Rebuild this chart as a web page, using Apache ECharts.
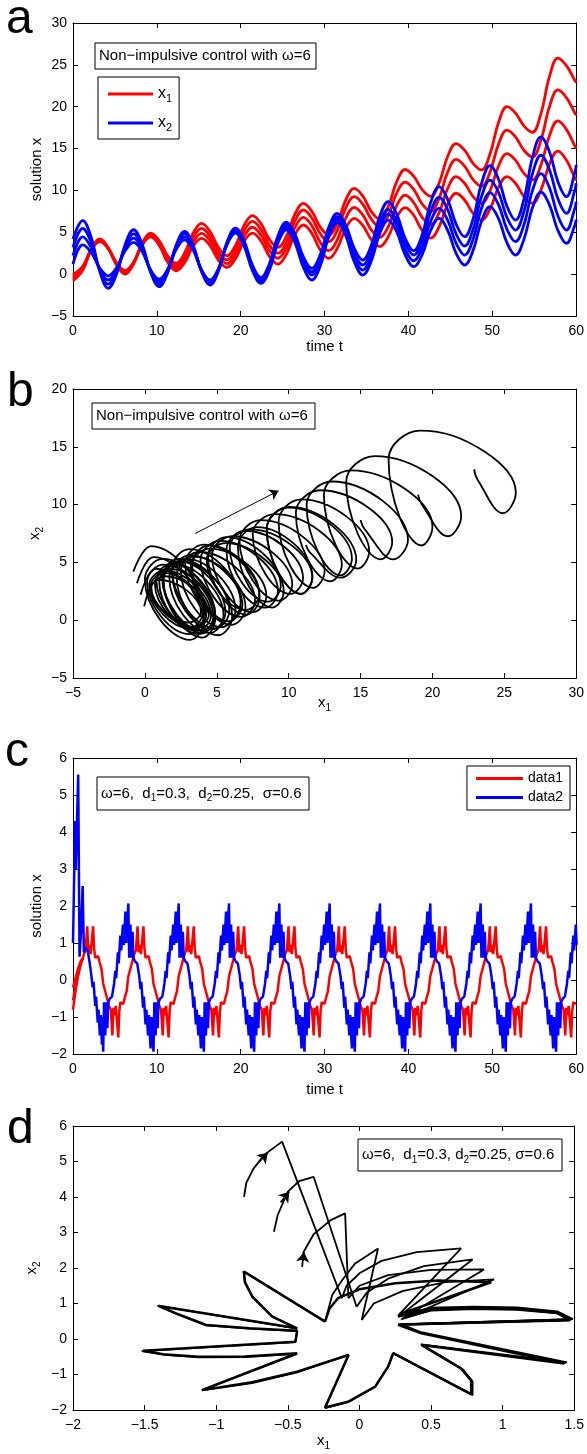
<!DOCTYPE html>
<html><head><meta charset="utf-8">
<script src="https://cdn.jsdelivr.net/npm/echarts@6/dist/echarts.min.js"></script>
<style>html,body{margin:0;padding:0;background:#fff}#c{width:587px;height:1454px}</style>
</head><body><div id="c"></div>
<script>
const FONT = "'Liberation Sans', Arial, Helvetica, sans-serif";
// ---------- panels a / b : four trajectories sampled at common times ----------
const tA = [0,1.16,2.17,3.19,4.20,5.21,6.22,7.23,8.24,9.26,10.27,11.28,12.29,13.30,14.31,15.33,16.34,17.35,18.36,19.37,20.38,21.40,22.41,23.42,24.43,25.44,26.45,27.47,28.48,29.49,30.50,31.51,32.52,33.54,34.55,35.56,36.57,37.58,38.59,39.61,40.62,41.63,42.64,43.65,44.66,45.68,46.69,47.70,48.71,49.72,50.74,51.75,52.76,53.77,54.78,55.79,56.81,57.82,58.83,59.84,60];
const x1Traj1 = [-0.05,0.94,2.91,3.9,3.04,1.31,0.45,1.45,3.45,4.45,3.44,1.41,0.4,1.37,3.3,4.27,3.4,1.67,0.8,1.83,3.88,4.9,3.98,2.13,1.2,2.37,4.7,5.87,4.87,2.88,1.88,3.08,5.47,6.66,5.82,4.13,3.28,4.45,6.78,7.95,7.04,5.21,4.3,5.64,8.32,9.66,8.86,7.27,6.47,7.77,10.36,11.65,10.86,9.27,8.47,10.03,13.14,14.7,13.63,11.49,11.2];
const x1Traj2 = [-0.3,0.78,2.93,4.0,3.08,1.23,0.3,1.38,3.53,4.6,3.63,1.68,0.7,1.74,3.83,4.87,3.97,2.16,1.25,2.34,4.51,5.6,4.68,2.83,1.9,3.12,5.56,6.78,5.79,3.8,2.8,4.1,6.69,7.98,7.08,5.29,4.39,5.66,8.19,9.45,8.56,6.79,5.9,7.34,10.21,11.65,10.86,9.27,8.47,9.95,12.92,14.4,13.61,12.04,11.25,13.01,16.54,18.3,17.29,15.28,15.0];
const x1Traj3 = [-0.55,0.61,2.94,4.1,3.11,1.14,0.15,1.3,3.6,4.75,3.81,1.94,1.0,2.12,4.35,5.47,4.53,2.64,1.7,2.85,5.15,6.3,5.35,3.45,2.5,3.79,6.37,7.66,6.71,4.82,3.87,5.22,7.91,9.25,8.36,6.57,5.67,7.0,9.67,11.0,10.13,8.38,7.5,9.05,12.15,13.7,12.9,11.3,10.5,12.18,15.53,17.2,16.4,14.8,14.0,16.0,20.0,22.0,21.08,19.25,19.0];
const x1Traj4 = [-0.8,0.45,2.95,4.2,3.15,1.05,0,1.23,3.68,4.9,4.0,2.2,1.3,2.49,4.88,6.07,5.1,3.17,2.2,3.4,5.8,7.0,6.05,4.15,3.2,4.51,7.14,8.45,7.5,5.62,4.67,6.07,8.86,10.25,9.33,7.5,6.58,8.06,11.02,12.5,11.7,10.1,9.3,10.88,14.03,15.6,14.81,13.24,12.45,14.34,18.11,20.0,19.24,17.71,16.95,19.16,23.59,25.8,24.91,23.14,22.9];
const x2Traj1 = [1.2,3.5,2.58,0.73,-0.2,0.8,2.8,3.8,2.7,0.5,-0.6,0.58,2.93,4.1,2.9,0.5,-0.7,0.7,3.5,4.9,3.4,0.4,-1.1,0.5,3.7,5.3,3.8,0.8,-0.7,1.01,4.44,6.15,4.59,1.46,-0.1,1.54,4.82,6.46,5.07,2.28,0.89,2.33,5.22,6.66,5.27,2.48,1.09,2.83,6.32,8.06,6.62,3.73,2.28,4.16,7.92,9.8,8.27,5.21,3.68,5.85,6.5];
const x2Traj2 = [2.2,4.45,3.16,0.59,-0.7,0.55,3.05,4.3,3.0,0.4,-0.9,0.44,3.11,4.45,3.11,0.44,-0.9,0.6,3.6,5.1,3.63,0.68,-0.8,0.8,4.0,5.6,4.18,1.33,-0.1,1.56,4.88,6.54,5.03,2.0,0.49,2.16,5.51,7.18,5.79,3.0,1.6,3.17,6.3,7.86,6.47,3.68,2.28,4.14,7.87,9.73,8.27,5.34,3.88,5.91,9.97,12.0,10.32,6.95,5.27,7.88,8.67];
const x2Traj3 = [3.2,5.45,3.79,0.46,-1.2,0.3,3.3,4.8,3.3,0.3,-1.2,0.3,3.3,4.8,3.33,0.38,-1.1,0.5,3.7,5.3,3.83,0.88,-0.6,1.03,4.28,5.9,4.5,1.69,0.29,1.93,5.22,6.86,5.42,2.53,1.09,2.75,6.08,7.74,6.38,3.65,2.28,4.0,7.45,9.17,7.72,4.81,3.36,5.33,9.27,11.24,9.75,6.76,5.27,7.5,11.97,14.2,12.47,9.0,7.26,10.03,10.86];
const x2Traj4 = [4.2,6.4,4.38,0.33,-1.7,0.05,3.55,5.3,3.6,0.2,-1.5,0.15,3.45,5.1,3.5,0.3,-1.3,0.4,3.8,5.5,4.03,1.08,-0.4,1.25,4.55,6.2,4.82,2.07,0.69,2.33,5.62,7.26,5.87,3.08,1.69,3.43,6.91,8.65,7.19,4.26,2.8,4.71,8.54,10.45,8.96,5.97,4.47,6.59,10.84,12.96,11.34,8.09,6.46,8.95,13.92,16.4,14.61,11.04,9.25,12.16,13.05];
const bArrow = [[3.5, 7.5], [9.3, 11.2]];

// ---------- panel c : impulsive control time series ----------
const cRedTime = [0,0.3,0.6,0.9,1.2,1.30,1.50,1.70,1.82,2.00,2.10,2.40,2.52,2.65,3.00,3.15,3.40,
3.60,3.95,4.30,4.50,4.70,4.82,5.00,5.10,5.40,5.52,5.65,6.00,6.15,6.40,6.60,6.95,7.30,7.50,7.70,7.82,8.00,8.10,8.40,8.52,8.65,9.00,9.15,9.40,
9.60,9.95,10.30,10.50,10.70,10.82,11.00,11.10,11.40,11.52,11.65,12.00,12.15,12.40,12.60,12.95,13.30,13.50,13.70,13.82,14.00,14.10,14.40,14.52,14.65,15.00,15.15,15.40,
15.60,15.95,16.30,16.50,16.70,16.82,17.00,17.10,17.40,17.52,17.65,18.00,18.15,18.40,18.60,18.95,19.30,19.50,19.70,19.82,20.00,20.10,20.40,20.52,20.65,21.00,21.15,21.40,
21.60,21.95,22.30,22.50,22.70,22.82,23.00,23.10,23.40,23.52,23.65,24.00,24.15,24.40,24.60,24.95,25.30,25.50,25.70,25.82,26.00,26.10,26.40,26.52,26.65,27.00,27.15,27.40,
27.60,27.95,28.30,28.50,28.70,28.82,29.00,29.10,29.40,29.52,29.65,30.00,30.15,30.40,30.60,30.95,31.30,31.50,31.70,31.82,32.00,32.10,32.40,32.52,32.65,33.00,33.15,33.40,
33.60,33.95,34.30,34.50,34.70,34.82,35.00,35.10,35.40,35.52,35.65,36.00,36.15,36.40,36.60,36.95,37.30,37.50,37.70,37.82,38.00,38.10,38.40,38.52,38.65,39.00,39.15,39.40,
39.60,39.95,40.30,40.50,40.70,40.82,41.00,41.10,41.40,41.52,41.65,42.00,42.15,42.40,42.60,42.95,43.30,43.50,43.70,43.82,44.00,44.10,44.40,44.52,44.65,45.00,45.15,45.40,
45.60,45.95,46.30,46.50,46.70,46.82,47.00,47.10,47.40,47.52,47.65,48.00,48.15,48.40,48.60,48.95,49.30,49.50,49.70,49.82,50.00,50.10,50.40,50.52,50.65,51.00,51.15,51.40,
51.60,51.95,52.30,52.50,52.70,52.82,53.00,53.10,53.40,53.52,53.65,54.00,54.15,54.40,54.60,54.95,55.30,55.50,55.70,55.82,56.00,56.10,56.40,56.52,56.65,57.00,57.15,57.40,
57.60,57.95,58.30,58.50,58.70,58.82,59.00,59.10,59.40,59.52,59.65,60.00];
const cRedValue = [-0.8,-0.3,0.1,0.4,0.6,0.70,0.80,1.45,0.75,0.95,0.70,1.45,0.85,0.60,0.65,0.50,0.30,
-0.10,-0.40,-0.70,-0.80,-1.50,-0.75,-0.95,-0.70,-1.55,-0.85,-0.60,-0.65,-0.50,-0.30,0.10,0.40,0.70,0.80,1.45,0.75,0.95,0.70,1.45,0.85,0.60,0.65,0.50,0.30,
-0.10,-0.40,-0.70,-0.80,-1.50,-0.75,-0.95,-0.70,-1.55,-0.85,-0.60,-0.65,-0.50,-0.30,0.10,0.40,0.70,0.80,1.45,0.75,0.95,0.70,1.45,0.85,0.60,0.65,0.50,0.30,
-0.10,-0.40,-0.70,-0.80,-1.50,-0.75,-0.95,-0.70,-1.55,-0.85,-0.60,-0.65,-0.50,-0.30,0.10,0.40,0.70,0.80,1.45,0.75,0.95,0.70,1.45,0.85,0.60,0.65,0.50,0.30,
-0.10,-0.40,-0.70,-0.80,-1.50,-0.75,-0.95,-0.70,-1.55,-0.85,-0.60,-0.65,-0.50,-0.30,0.10,0.40,0.70,0.80,1.45,0.75,0.95,0.70,1.45,0.85,0.60,0.65,0.50,0.30,
-0.10,-0.40,-0.70,-0.80,-1.50,-0.75,-0.95,-0.70,-1.55,-0.85,-0.60,-0.65,-0.50,-0.30,0.10,0.40,0.70,0.80,1.45,0.75,0.95,0.70,1.45,0.85,0.60,0.65,0.50,0.30,
-0.10,-0.40,-0.70,-0.80,-1.50,-0.75,-0.95,-0.70,-1.55,-0.85,-0.60,-0.65,-0.50,-0.30,0.10,0.40,0.70,0.80,1.45,0.75,0.95,0.70,1.45,0.85,0.60,0.65,0.50,0.30,
-0.10,-0.40,-0.70,-0.80,-1.50,-0.75,-0.95,-0.70,-1.55,-0.85,-0.60,-0.65,-0.50,-0.30,0.10,0.40,0.70,0.80,1.45,0.75,0.95,0.70,1.45,0.85,0.60,0.65,0.50,0.30,
-0.10,-0.40,-0.70,-0.80,-1.50,-0.75,-0.95,-0.70,-1.55,-0.85,-0.60,-0.65,-0.50,-0.30,0.10,0.40,0.70,0.80,1.45,0.75,0.95,0.70,1.45,0.85,0.60,0.65,0.50,0.30,
-0.10,-0.40,-0.70,-0.80,-1.50,-0.75,-0.95,-0.70,-1.55,-0.85,-0.60,-0.65,-0.50,-0.30,0.10,0.40,0.70,0.80,1.45,0.75,0.95,0.70,1.45,0.85,0.60,0.65,0.50,0.30,
-0.10,-0.40,-0.70,-0.80,-1.50,-0.75,-0.95,-0.70,-1.55,-0.85,-0.60,-0.65];
const cRedStart2 = [[0,-0.55],[0.3,-0.15],[0.6,0.15],[0.9,0.45],[1.2,0.6]];
const cRedStart3 = [[0,-0.2],[0.3,0.05],[0.6,0.3],[0.9,0.5],[1.2,0.6]];
const cBlueTime = [0,0.25,0.33,0.62,0.78,0.95,1.15,1.3,1.5,1.75,2.0,2.2,2.35,2.45,2.65,2.75,2.95,3.05,3.2,3.3,3.45,3.52,
3.60,3.70,3.85,3.95,4.10,4.20,4.40,4.65,4.90,5.05,5.15,5.35,5.45,5.65,5.75,5.95,6.05,6.25,6.35,6.60,6.70,6.85,6.95,7.10,7.20,7.40,7.65,7.90,8.05,8.15,8.35,8.45,8.65,8.75,8.95,9.05,9.25,9.35,
9.60,9.70,9.85,9.95,10.10,10.20,10.40,10.65,10.90,11.05,11.15,11.35,11.45,11.65,11.75,11.95,12.05,12.25,12.35,12.60,12.70,12.85,12.95,13.10,13.20,13.40,13.65,13.90,14.05,14.15,14.35,14.45,14.65,14.75,14.95,15.05,15.25,15.35,
15.60,15.70,15.85,15.95,16.10,16.20,16.40,16.65,16.90,17.05,17.15,17.35,17.45,17.65,17.75,17.95,18.05,18.25,18.35,18.60,18.70,18.85,18.95,19.10,19.20,19.40,19.65,19.90,20.05,20.15,20.35,20.45,20.65,20.75,20.95,21.05,21.25,21.35,
21.60,21.70,21.85,21.95,22.10,22.20,22.40,22.65,22.90,23.05,23.15,23.35,23.45,23.65,23.75,23.95,24.05,24.25,24.35,24.60,24.70,24.85,24.95,25.10,25.20,25.40,25.65,25.90,26.05,26.15,26.35,26.45,26.65,26.75,26.95,27.05,27.25,27.35,
27.60,27.70,27.85,27.95,28.10,28.20,28.40,28.65,28.90,29.05,29.15,29.35,29.45,29.65,29.75,29.95,30.05,30.25,30.35,30.60,30.70,30.85,30.95,31.10,31.20,31.40,31.65,31.90,32.05,32.15,32.35,32.45,32.65,32.75,32.95,33.05,33.25,33.35,
33.60,33.70,33.85,33.95,34.10,34.20,34.40,34.65,34.90,35.05,35.15,35.35,35.45,35.65,35.75,35.95,36.05,36.25,36.35,36.60,36.70,36.85,36.95,37.10,37.20,37.40,37.65,37.90,38.05,38.15,38.35,38.45,38.65,38.75,38.95,39.05,39.25,39.35,
39.60,39.70,39.85,39.95,40.10,40.20,40.40,40.65,40.90,41.05,41.15,41.35,41.45,41.65,41.75,41.95,42.05,42.25,42.35,42.60,42.70,42.85,42.95,43.10,43.20,43.40,43.65,43.90,44.05,44.15,44.35,44.45,44.65,44.75,44.95,45.05,45.25,45.35,
45.60,45.70,45.85,45.95,46.10,46.20,46.40,46.65,46.90,47.05,47.15,47.35,47.45,47.65,47.75,47.95,48.05,48.25,48.35,48.60,48.70,48.85,48.95,49.10,49.20,49.40,49.65,49.90,50.05,50.15,50.35,50.45,50.65,50.75,50.95,51.05,51.25,51.35,
51.60,51.70,51.85,51.95,52.10,52.20,52.40,52.65,52.90,53.05,53.15,53.35,53.45,53.65,53.75,53.95,54.05,54.25,54.35,54.60,54.70,54.85,54.95,55.10,55.20,55.40,55.65,55.90,56.05,56.15,56.35,56.45,56.65,56.75,56.95,57.05,57.25,57.35,
57.60,57.70,57.85,57.95,58.10,58.20,58.40,58.65,58.90,59.05,59.15,59.35,59.45,59.65,59.75,59.95,60.05];
const cBlueValue = [1.0,4.3,3.0,5.55,0.63,1.3,2.54,0.75,0.86,0.8,0.45,0.1,-0.2,-0.05,-0.7,-0.45,-1.15,-0.8,-1.5,-0.95,-1.75,-1.0,
-1.94,-0.60,-1.50,-0.60,-1.30,-0.60,-0.50,-0.45,-0.10,0.25,0.05,0.75,0.45,1.20,0.80,1.50,0.95,1.85,1.00,2.07,0.60,1.50,0.60,1.30,0.60,0.50,0.45,0.10,-0.25,-0.05,-0.75,-0.45,-1.20,-0.80,-1.50,-0.95,-1.85,-1.00,
-1.94,-0.60,-1.50,-0.60,-1.30,-0.60,-0.50,-0.45,-0.10,0.25,0.05,0.75,0.45,1.20,0.80,1.50,0.95,1.85,1.00,2.07,0.60,1.50,0.60,1.30,0.60,0.50,0.45,0.10,-0.25,-0.05,-0.75,-0.45,-1.20,-0.80,-1.50,-0.95,-1.85,-1.00,
-1.94,-0.60,-1.50,-0.60,-1.30,-0.60,-0.50,-0.45,-0.10,0.25,0.05,0.75,0.45,1.20,0.80,1.50,0.95,1.85,1.00,2.07,0.60,1.50,0.60,1.30,0.60,0.50,0.45,0.10,-0.25,-0.05,-0.75,-0.45,-1.20,-0.80,-1.50,-0.95,-1.85,-1.00,
-1.94,-0.60,-1.50,-0.60,-1.30,-0.60,-0.50,-0.45,-0.10,0.25,0.05,0.75,0.45,1.20,0.80,1.50,0.95,1.85,1.00,2.07,0.60,1.50,0.60,1.30,0.60,0.50,0.45,0.10,-0.25,-0.05,-0.75,-0.45,-1.20,-0.80,-1.50,-0.95,-1.85,-1.00,
-1.94,-0.60,-1.50,-0.60,-1.30,-0.60,-0.50,-0.45,-0.10,0.25,0.05,0.75,0.45,1.20,0.80,1.50,0.95,1.85,1.00,2.07,0.60,1.50,0.60,1.30,0.60,0.50,0.45,0.10,-0.25,-0.05,-0.75,-0.45,-1.20,-0.80,-1.50,-0.95,-1.85,-1.00,
-1.94,-0.60,-1.50,-0.60,-1.30,-0.60,-0.50,-0.45,-0.10,0.25,0.05,0.75,0.45,1.20,0.80,1.50,0.95,1.85,1.00,2.07,0.60,1.50,0.60,1.30,0.60,0.50,0.45,0.10,-0.25,-0.05,-0.75,-0.45,-1.20,-0.80,-1.50,-0.95,-1.85,-1.00,
-1.94,-0.60,-1.50,-0.60,-1.30,-0.60,-0.50,-0.45,-0.10,0.25,0.05,0.75,0.45,1.20,0.80,1.50,0.95,1.85,1.00,2.07,0.60,1.50,0.60,1.30,0.60,0.50,0.45,0.10,-0.25,-0.05,-0.75,-0.45,-1.20,-0.80,-1.50,-0.95,-1.85,-1.00,
-1.94,-0.60,-1.50,-0.60,-1.30,-0.60,-0.50,-0.45,-0.10,0.25,0.05,0.75,0.45,1.20,0.80,1.50,0.95,1.85,1.00,2.07,0.60,1.50,0.60,1.30,0.60,0.50,0.45,0.10,-0.25,-0.05,-0.75,-0.45,-1.20,-0.80,-1.50,-0.95,-1.85,-1.00,
-1.94,-0.60,-1.50,-0.60,-1.30,-0.60,-0.50,-0.45,-0.10,0.25,0.05,0.75,0.45,1.20,0.80,1.50,0.95,1.85,1.00,2.07,0.60,1.50,0.60,1.30,0.60,0.50,0.45,0.10,-0.25,-0.05,-0.75,-0.45,-1.20,-0.80,-1.50,-0.95,-1.85,-1.00,
-1.94,-0.60,-1.50,-0.60,-1.30,-0.60,-0.50,-0.45,-0.10,0.25,0.05,0.75,0.45,1.20,0.80,1.50,0.95];

// ---------- panel d : phase portrait (x1, x2) ----------
const dOrbit = [[-0.24,0.49],[-0.21,0.85],[-0.15,1.15],[0.0,1.40],[0.25,1.57],[0.55,1.65],[0.92,1.60],[0.28,0.70],[0.5,0.85],[0.8,0.88],[1.1,0.86],[1.38,0.75],[1.475,0.54],[0.27,0.40],[0.433,0.16],[1.43,-0.69],[0.433,-0.17],[0.57,-0.50],[0.71,-0.83],[0.78,-1.16],[0.78,-1.55],[0.236,-0.40],[0.20,-0.78],[0.11,-1.34],[-0.08,-1.77],[-0.24,-1.93],[-0.076,-0.45],[-0.435,-0.92],[-0.75,-1.22],[-1.10,-1.44],[-0.435,-0.40],[-0.8,-0.49],[-1.12,-0.50],[-1.35,-0.44],[-1.51,-0.33],[-0.447,-0.075],[-0.44,0.10],[-0.435,0.23],[-0.77,0.30],[-1.07,0.395],[-1.28,0.72],[-1.40,0.93],[-0.435,0.30],[-0.609,0.63],[-0.748,1.19],[-0.80,1.60],[-0.806,1.897],[-0.24,0.49]];
const dStart1 = [[-0.806,4.0],[-0.79,4.4],[-0.74,4.8],[-0.66,5.2],[-0.54,5.56],[-0.123,1.15],[-0.09,1.5],[0.0,1.85],[0.155,2.2],[0.40,2.45],[0.71,2.55],[0.27,0.66],[0.5,0.88],[0.8,0.91],[1.1,0.89],[1.38,0.78],[1.49,0.56],[0.29,0.42],[0.43,0.19],[1.45,-0.66],[0.43,-0.15],[0.58,-0.5],[0.72,-0.85],[0.79,-1.2],[0.79,-1.58],[0.236,-0.40]];
const dStart2 = [[-0.597,3.02],[-0.57,3.5],[-0.50,4.15],[-0.42,4.45],[-0.32,4.57],[-0.02,0.91],[0.05,1.3],[0.2,1.7],[0.45,2.05],[0.79,2.24],[0.27,0.62],[0.5,0.84],[0.8,0.87],[1.1,0.85],[1.38,0.76],[1.48,0.56],[0.28,0.41],[0.43,0.18],[1.44,-0.68],[0.43,-0.16],[0.57,-0.5],[0.71,-0.84],[0.78,-1.18],[0.78,-1.56],[0.236,-0.40],[0.20,-0.78],[0.11,-1.34],[-0.08,-1.78],[-0.24,-1.95],[-0.076,-0.45],[-0.435,-0.94],[-0.75,-1.24],[-1.10,-1.45],[-0.435,-0.42],[-0.8,-0.51],[-1.12,-0.52],[-1.36,-0.45],[-1.52,-0.34],[-0.447,-0.09],[-0.44,0.10],[-0.435,0.22],[-0.77,0.29],[-1.07,0.385],[-1.28,0.71],[-1.41,0.94],[-0.435,0.29],[-0.609,0.64],[-0.748,1.20],[-0.80,1.62],[-0.81,1.91],[-0.24,0.49],[-0.19,1.24],[-0.12,1.66],[-0.03,2.13],[0.13,2.55],[0.016,0.535],[0.1,1.0],[0.3,1.35],[0.6,1.6],[0.94,1.68],[0.29,0.55],[0.5,0.82],[0.8,0.86],[1.1,0.84],[1.38,0.73],[1.47,0.52],[0.27,0.40]];
const dStart3 = [[-0.40,2.03],[-0.39,2.45],[-0.32,2.95],[-0.2,3.35],[-0.10,3.54],[-0.077,1.15],[0.0,1.5],[0.2,1.8],[0.5,1.95],[0.87,1.96],[0.3,0.58],[0.5,0.80],[0.8,0.84],[1.1,0.82],[1.38,0.72],[1.47,0.53],[0.27,0.41]];
const dArrows = [[[-0.70,5.00],[-0.64,5.25]],[[-0.55,3.85],[-0.49,4.15]],[[-0.395,2.20],[-0.388,2.45]]];

// ---------- helpers ----------
const minus = v => String(Math.round(v*100)/100).replace('-', '\u2212');
const subRich = {s:{fontSize:10, lineHeight:10, verticalAlign:'bottom', fontFamily:FONT, color:'#000'}};
function axes(g, xr, yr, xName, yName, xGap, yGap) {
  const base = (min,max,interval,lab) => ({gridIndex:g, type:'value', min, max, interval,
    splitLine:{show:false},
    axisLine:{show:true, onZero:false, lineStyle:{color:'#000', width:1}},
    axisTick:{show:true, inside:true, length:5, lineStyle:{color:'#000', width:1}},
    axisLabel:{show:lab, color:'#000', fontSize:14, fontFamily:FONT, formatter:minus}});
  const nts = {color:'#000', fontSize:15, fontFamily:FONT, lineHeight:20, rich:subRich};
  const xb = Object.assign(base(xr[0],xr[1],xr[2],true), {position:'bottom', name:xName, nameLocation:'middle', nameGap:xGap, nameMoveOverlap:false, nameTextStyle:nts});
  xb.axisLabel.margin = 8;
  const xt = Object.assign(base(xr[0],xr[1],xr[2],false), {position:'top'});
  const yl = Object.assign(base(yr[0],yr[1],yr[2],true), {position:'left', name:yName, nameLocation:'middle', nameGap:yGap, nameMoveOverlap:false, nameTextStyle:nts});
  yl.axisLabel.margin = 6;
  const yr2 = Object.assign(base(yr[0],yr[1],yr[2],false), {position:'right'});
  return {x:[xb,xt], y:[yl,yr2]};
}
const A = axes(0,[0,60,10],[-5,30,5],'time t','solution x',21,26);
const B = axes(1,[-5,30,5],[-5,20,5],'x{s|1}','x{s|2}',15,28);
const C = axes(2,[0,60,10],[-2,6,1],'time t','solution x',26,26);
const D = axes(3,[-2,1.5,0.5],[-2,6,1],'x{s|1}','x{s|2}',21,31);

const zip = (xs, ys) => xs.map((x,i)=>[x, ys[i]]);
const lineS = (name, data, color, width, xi, smooth) => ({type:'line', name, data, xAxisIndex:xi, yAxisIndex:xi,
  symbol:'none', smooth: smooth, lineStyle:{color, width}, itemStyle:{color}, z:2});

const series = [];
const x1s = [x1Traj1,x1Traj2,x1Traj3,x1Traj4], x2s = [x2Traj1,x2Traj2,x2Traj3,x2Traj4];
x1s.forEach(v => series.push(lineS('x1', zip(tA, v), '#ff0000', 2.8, 0, 0.4)));
x2s.forEach(v => series.push(lineS('x2', zip(tA, v), '#0000ff', 2.8, 0, 0.4)));
x1s.forEach((v,i) => series.push(lineS('traj'+i, zip(v, x2s[i]), '#000', 1.8, 2, 0.4)));
series.push({type:'lines', coordinateSystem:'cartesian2d', xAxisIndex:2, yAxisIndex:2, data:[{coords:bArrow}],
  symbol:['none','arrow'], symbolSize:9, lineStyle:{color:'#000', width:1, opacity:1}, itemStyle:{color:'#000'}});

series.push(lineS('data1', cRedStart2, '#ff0000', 2.5, 4, false));
series.push(lineS('data1', cRedStart3, '#ff0000', 2.5, 4, false));
series.push(lineS('data1', zip(cRedTime, cRedValue), '#ff0000', 2.5, 4, false));
series.push(lineS('data2', zip(cBlueTime, cBlueValue), '#0000ff', 2.5, 4, false));

series.push(lineS('d0', dOrbit, '#000', 2.5, 6, false));
[dStart1, dStart2, dStart3].forEach((d,i) => series.push(lineS('d'+(i+1), d, '#000', 1.8, 6, false)));
series.push({type:'lines', coordinateSystem:'cartesian2d', xAxisIndex:6, yAxisIndex:6,
  data: dArrows.map(c => ({coords:c})), symbol:['none','arrow'], symbolSize:10,
  lineStyle:{color:'#000', width:1.8, opacity:1}, itemStyle:{color:'#000'}});

const boxText = (x, y, w, h, text) => ({type:'group', children:[
  {type:'rect', shape:{x, y, width:w, height:h}, style:{fill:'#fff', stroke:'#000', lineWidth:1}, z:10},
  {type:'text', x:x+4, y:y+h/2, style:{text, fill:'#000', font:'15px '+FONT, verticalAlign:'middle', lineHeight:20,
    rich:{s:{fontSize:10, verticalAlign:'bottom', lineHeight:10, fontFamily:FONT}}}, z:11}]});
const letter = (t, x, y) => ({type:'text', x, y, style:{text:t, fill:'#000', font:'48px '+FONT, verticalAlign:'middle'}});

const chart = echarts.init(document.getElementById('c'), null, {renderer:'canvas'});
chart.setOption({
  animation:false,
  backgroundColor:'#fff',
  grid:[
    {left:73, top:23, width:504, height:293},
    {left:73, top:389, width:504, height:289},
    {left:73, top:758, width:504, height:296},
    {left:73, top:1126, width:504, height:284}],
  xAxis:[...A.x, ...B.x, ...C.x, ...D.x],
  yAxis:[...A.y, ...B.y, ...C.y, ...D.y],
  legend:[
    {data:['x1','x2'], left:98, top:77, orient:'vertical', icon:'rect', itemWidth:45, itemHeight:3, itemGap:9,
     padding:[7,7,6,10], borderColor:'#000', borderWidth:1, backgroundColor:'#fff',
     formatter: n => n==='x1' ? 'x{s|1}' : 'x{s|2}',
     textStyle:{color:'#000', fontSize:16, fontFamily:FONT, lineHeight:20, rich:{s:{fontSize:11, lineHeight:10, verticalAlign:'bottom', fontFamily:FONT}}}},
    {data:['data1','data2'], right:17, top:766, orient:'vertical', icon:'rect', itemWidth:47, itemHeight:3, itemGap:4,
     padding:[5,7,5,9], borderColor:'#000', borderWidth:1, backgroundColor:'#fff',
     textStyle:{color:'#000', fontSize:14, lineHeight:15, fontFamily:FONT}}],
  graphic:[
    boxText(95,43,221,26,'Non\u2212impulsive control with \u03c9=6'),
    boxText(92,403,223,26,'Non\u2212impulsive control with \u03c9=6'),
    boxText(97,777,212,33,'\u03c9=6,  d{s|1}=0.3,  d{s|2}=0.25,  \u03c3=0.6'),
    boxText(358,1139,204,32,'\u03c9=6,  d{s|1}=0.3, d{s|2}=0.25, \u03c3=0.6'),
    letter('a',6,20), letter('b',7,393), letter('c',5,753), letter('d',7,1130)],
  series
});
</script></body></html>
